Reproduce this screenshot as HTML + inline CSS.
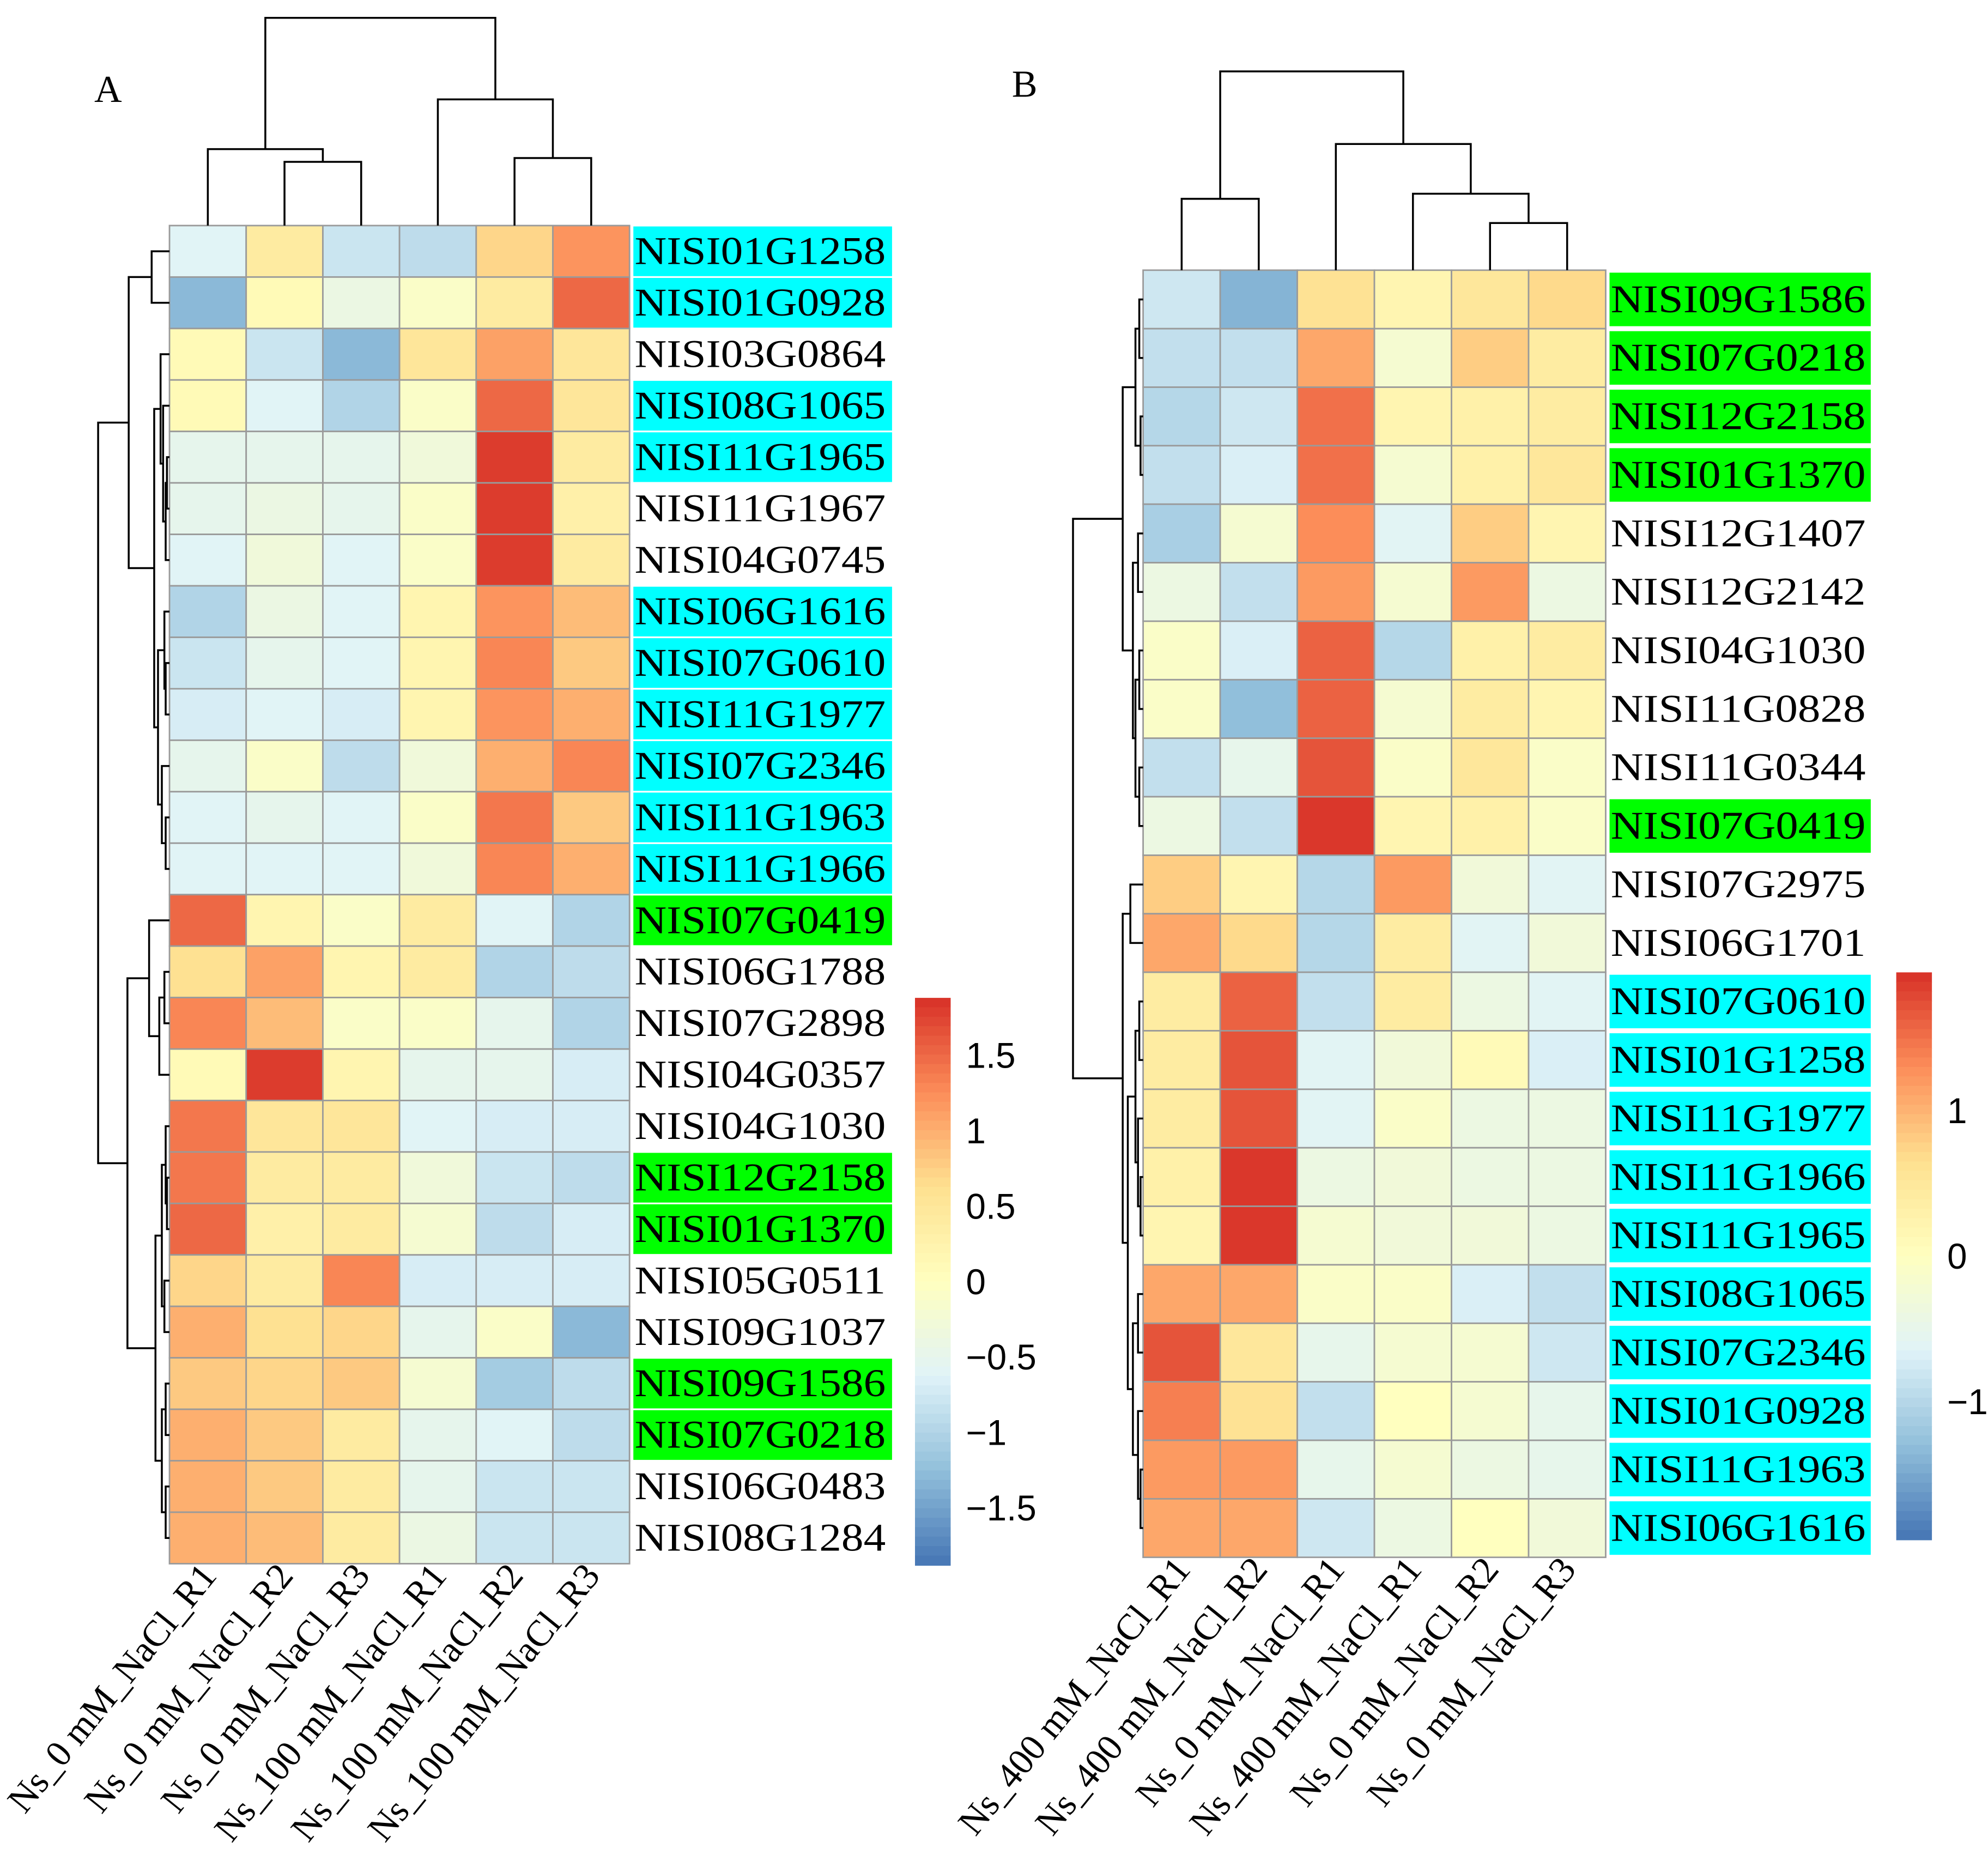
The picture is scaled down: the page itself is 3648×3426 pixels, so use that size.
<!DOCTYPE html>
<html><head><meta charset="utf-8"><style>
html,body{margin:0;padding:0;background:#fff;}
svg{display:block;}
text{font-family:"Liberation Serif",serif;fill:#000;}
</style></head><body>
<svg id="fig" xmlns="http://www.w3.org/2000/svg" width="3648" height="3426" viewBox="0 0 1560 1465" preserveAspectRatio="none">
<rect x="0" y="0" width="1560" height="1465" fill="#fff"/>
<text x="74" y="80" font-size="30">A</text>
<text x="794" y="76" font-size="30">B</text>
</svg>
<script>
const colsA = ["Ns_0 mM_NaCl_R1","Ns_0 mM_NaCl_R2","Ns_0 mM_NaCl_R3","Ns_100 mM_NaCl_R1","Ns_100 mM_NaCl_R2","Ns_100 mM_NaCl_R3"];
const genesA = ["NISI01G1258","NISI01G0928","NISI03G0864","NISI08G1065","NISI11G1965","NISI11G1967","NISI04G0745","NISI06G1616","NISI07G0610","NISI11G1977","NISI07G2346","NISI11G1963","NISI11G1966","NISI07G0419","NISI06G1788","NISI07G2898","NISI04G0357","NISI04G1030","NISI12G2158","NISI01G1370","NISI05G0511","NISI09G1037","NISI09G1586","NISI07G0218","NISI06G0483","NISI08G1284"];
const highlightA = ["c","c","","c","c","","","c","c","c","c","c","c","g","","","","","g","g","","","g","g","",""];
const valuesA = [
[-0.6,0.4,-0.8,-0.9,0.7,1.2],[-1.3,0.1,-0.4,-0.1,0.4,1.5],[0.1,-0.8,-1.3,0.5,1.1,0.5],[0.1,-0.6,-1.0,-0.1,1.5,0.5],
[-0.5,-0.5,-0.5,-0.3,1.8,0.4],[-0.5,-0.4,-0.5,-0.1,1.8,0.3],[-0.6,-0.3,-0.6,-0.1,1.8,0.4],[-1.0,-0.4,-0.6,0.2,1.2,0.9],
[-0.8,-0.5,-0.6,0.2,1.3,0.8],[-0.7,-0.6,-0.7,0.2,1.2,1.0],[-0.5,-0.1,-0.9,-0.3,1.0,1.3],[-0.6,-0.5,-0.6,-0.1,1.4,0.8],
[-0.6,-0.6,-0.6,-0.3,1.3,1.0],[1.5,0.2,-0.1,0.4,-0.6,-1.0],[0.6,1.1,0.2,0.4,-1.0,-0.9],[1.3,0.9,-0.1,-0.1,-0.5,-1.0],
[0.1,1.8,0.2,-0.5,-0.5,-0.7],[1.4,0.5,0.5,-0.6,-0.7,-0.7],[1.4,0.4,0.4,-0.3,-0.8,-0.9],[1.5,0.3,0.4,-0.2,-0.9,-0.7],
[0.7,0.4,1.3,-0.7,-0.7,-0.7],[1.0,0.6,0.7,-0.5,-0.1,-1.3],[0.8,0.7,0.8,-0.2,-1.1,-0.9],[1.0,0.8,0.4,-0.5,-0.6,-0.9],
[1.0,0.8,0.4,-0.5,-0.8,-0.8],[1.0,0.9,0.4,-0.4,-0.8,-0.8]];
const ticksA = [1.5,1,0.5,0,-0.5,-1,-1.5];
const rangeA = 1.88;

const colsB = ["Ns_400 mM_NaCl_R1","Ns_400 mM_NaCl_R2","Ns_0 mM_NaCl_R1","Ns_400 mM_NaCl_R1","Ns_0 mM_NaCl_R2","Ns_0 mM_NaCl_R3"];
const genesB = ["NISI09G1586","NISI07G0218","NISI12G2158","NISI01G1370","NISI12G1407","NISI12G2142","NISI04G1030","NISI11G0828","NISI11G0344","NISI07G0419","NISI07G2975","NISI06G1701","NISI07G0610","NISI01G1258","NISI11G1977","NISI11G1966","NISI11G1965","NISI08G1065","NISI07G2346","NISI01G0928","NISI11G1963","NISI06G1616"];
const highlightB = ["g","g","g","g","","","","","","g","","","c","c","c","c","c","c","c","c","c","c"];
const valuesB = [
[-0.8,-1.4,0.6,0.2,0.5,0.7],[-0.9,-0.9,1.1,-0.2,0.8,0.4],[-1.0,-0.8,1.5,0.2,0.3,0.4],[-0.9,-0.7,1.5,-0.2,0.3,0.5],
[-1.1,-0.2,1.3,-0.6,0.8,0.2],[-0.4,-0.9,1.2,-0.2,1.2,-0.4],[-0.1,-0.7,1.6,-1.0,0.3,0.4],[-0.1,-1.3,1.6,-0.2,0.4,0.2],
[-0.9,-0.5,1.7,-0.1,0.5,-0.1],[-0.4,-0.9,1.9,0.2,0.3,-0.1],[0.8,0.2,-1.0,1.2,-0.3,-0.6],[1.1,0.7,-1.0,0.4,-0.6,-0.3],
[0.4,1.6,-0.9,0.4,-0.4,-0.6],[0.4,1.7,-0.6,-0.3,0.1,-0.7],[0.4,1.7,-0.6,-0.1,-0.4,-0.4],[0.3,1.9,-0.4,-0.3,-0.4,-0.4],
[0.2,1.9,-0.2,-0.3,-0.3,-0.4],[1.1,1.1,-0.1,-0.1,-0.7,-0.9],[1.7,0.5,-0.5,-0.2,-0.2,-0.8],[1.4,0.6,-0.9,0.0,-0.2,-0.5],
[1.2,1.2,-0.5,-0.2,-0.4,-0.5],[1.1,1.1,-0.8,-0.4,0.0,-0.3]];
const ticksB = [1,0,-1];
const rangeB = 1.95;

// dendrogram topologies: [height, left, right]
const rowTreeA = [56,[32,[14,0,1],[12,[7,2,[5,3,[3,[2,4,5],6]]],[9,[4,7,[3,8,9]],[6,10,[3,11,12]]]]],[33,[16,13,[8,[4,14,15],16]],[11,[6,[3,17,[2,18,19]],[4,20,21]],[6,[3,22,23],[3,24,25]]]]];
const colTreeA = [163,[60,0,[50,1,2]],[99,3,[53,4,5]]];
const rowTreeB = [55,[16,[6,[3,0,1],[2,2,3]],[8,[4,4,5],[6,[3,6,7],[3,8,9]]]],[16,[10,10,11],[12,[6,[3,12,13],[4,14,[2,15,16]]],[8,[4,17,18],[4,19,[2,20,21]]]]]];
const colTreeB = [156,[56,0,1],[99,2,[60,3,[37,4,5]]]];

const pal = ["#4575B4","#91BFDB","#E0F3F8","#FFFFBF","#FEE090","#FC8D59","#D73027"].map(h=>[1,3,5].map(i=>parseInt(h.substr(i,2),16)));
function color(v,m){let t=(v+m)/(2*m);t=Math.max(0,Math.min(1,t));const p=t*6;const i=Math.min(5,Math.floor(p));const f=p-i;
 const c=pal[i].map((a,k)=>Math.round(a+(pal[i+1][k]-a)*f));return `rgb(${c[0]},${c[1]},${c[2]})`;}

const NS="http://www.w3.org/2000/svg";
const svg=document.getElementById('fig');
function el(tag,attrs,parent){const e=document.createElementNS(NS,tag);for(const k in attrs)e.setAttribute(k,attrs[k]);(parent||svg).appendChild(e);return e;}

function panel(cfg){
 const g=el('g',{});
 
 
 const nR=cfg.genes.length,nC=cfg.cols.length;
 const cw=(cfg.x1-cfg.x0)/nC, rh=(cfg.y1-cfg.y0)/nR;
 const xOf=c=>cfg.x0+c*cw, yOf=r=>cfg.y0+r*rh;
 // cells
 cfg.values.forEach((row,r)=>row.forEach((v,c)=>{
  const rc=el('rect',{x:xOf(c),y:yOf(r),width:cw,height:rh,fill:color(v,cfg.range),stroke:'#9a9a9a','stroke-width':1.2},g);
  
  
 }));
 // gene labels
 cfg.genes.forEach((gname,r)=>{
  const hl=cfg.hl[r];
  if(hl){const b=el('rect',{x:cfg.x1+3,y:yOf(r)+rh/2-cfg.boxH/2,width:cfg.boxW,height:cfg.boxH,fill:hl==='c'?'#00FFFF':'#00FF00'},g);
   
   }
  const t=el('text',{x:cfg.x1+4,y:yOf(r)+rh/2+10,'font-size':31,textLength:cfg.txtW,lengthAdjust:'spacingAndGlyphs'},g);
  t.textContent=gname;
  
  
 });
 // column labels
 cfg.cols.forEach((cn,c)=>{
  const cx=xOf(c)+cw/2+8, cy=cfg.y1+10;
  const t=el('text',{x:cx,y:cy,'font-size':29,'text-anchor':'end',transform:`rotate(-51 ${cx} ${cy})`},g);
  t.textContent=cn;
  
  
 });
 // row dendrogram
 function drawRow(node){
  if(typeof node==='number') return {y:yOf(node)+rh/2,x:cfg.x0};
  const a=drawRow(node[1]),b=drawRow(node[2]);const x=cfg.x0-node[0];
  const p=el('path',{d:`M${a.x},${a.y}H${x}V${b.y}H${b.x}`,fill:'none',stroke:'#000','stroke-width':1.5},g);
  
  
  return {y:(a.y+b.y)/2,x:x};
 }
 drawRow(cfg.rowTree);
 function drawCol(node){
  if(typeof node==='number') return {x:xOf(node)+cw/2,y:cfg.y0};
  const a=drawCol(node[1]),b=drawCol(node[2]);const y=cfg.y0-node[0];
  const p=el('path',{d:`M${a.x},${a.y}V${y}H${b.x}V${b.y}`,fill:'none',stroke:'#000','stroke-width':1.5},g);
  
  
  return {x:(a.x+b.x)/2,y:y};
 }
 drawCol(cfg.colTree);
 // legend
 const L=cfg.leg, steps=60, sh=(L.y1-L.y0)/steps;
 for(let i=0;i<steps;i++){
  const v=cfg.range-(i+0.5)/steps*2*cfg.range;
  const s=el('rect',{x:L.x,y:L.y0+i*sh,width:L.w,height:sh+0.6,fill:color(v,cfg.range)},g);
  
  
 }
 const vy=v=>L.y0+(cfg.range-v)/(2*cfg.range)*(L.y1-L.y0);
 cfg.ticks.forEach(tv=>{
  const t=el('text',{x:L.x+L.w+12,y:vy(tv)+10,'font-size':28,style:'font-family:"Liberation Sans",sans-serif'},g);
  t.textContent=(tv<0?'\u2212'+Math.abs(tv):String(tv));
  
  
 });
}
panel({name:'panel-a-heatmap',genes:genesA,cols:colsA,values:valuesA,hl:highlightA,range:rangeA,ticks:ticksA,
 x0:133,x1:494,y0:177,y1:1227,boxW:203,boxH:39,txtW:197,rowTree:rowTreeA,colTree:colTreeA,leg:{x:718,w:28,y0:783,y1:1228}});
panel({name:'panel-b-heatmap',genes:genesB,cols:colsB,values:valuesB,hl:highlightB,range:rangeB,ticks:ticksB,
 x0:897,x1:1260,y0:212,y1:1222,boxW:205,boxH:42,txtW:200,rowTree:rowTreeB,colTree:colTreeB,leg:{x:1488,w:28,y0:763,y1:1208}});
</script>
</body></html>
